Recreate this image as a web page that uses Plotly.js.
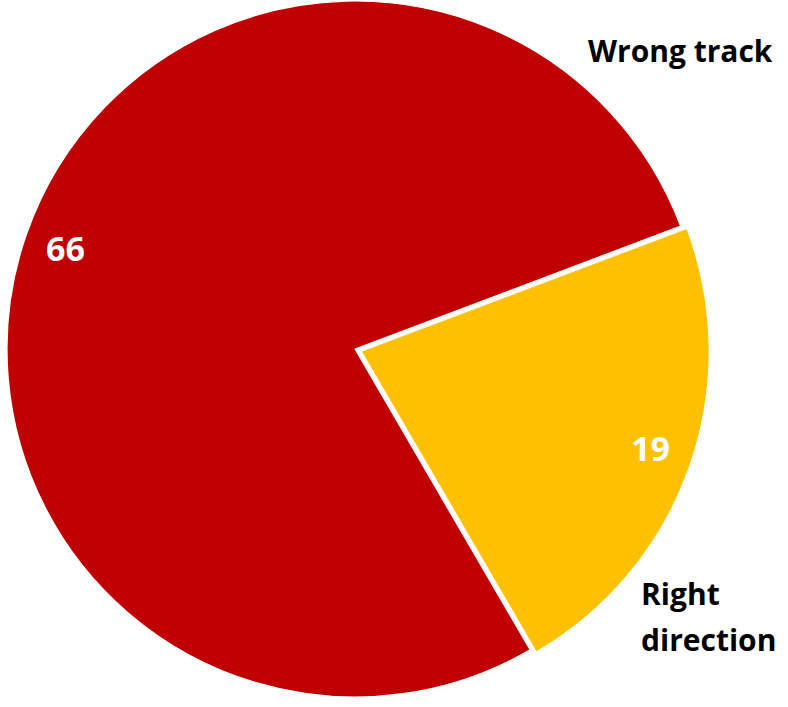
<!DOCTYPE html>
<html>
<head>
<meta charset="utf-8">
<script src="https://cdn.plot.ly/plotly-3.0.1.min.js"></script>
<style>
html,body{margin:0;padding:0;overflow:hidden;background:#fff;width:788px;height:707px;}
#chart{position:absolute;left:0;top:-6px;width:788px;height:720px;}
</style>
</head>
<body>
<div id="chart"></div>
<script>
// Data
const categories = ['Wrong track', 'Right direction'];
const values = [66, 19];
const colors = ['#C00000', '#FFC000'];
const pulls = [0, 0.019];

// Layout constants (pixels, in div coords; div is shifted up 6px)
const W = 788, H = 720, OFF = 6;
const cx = 355, cy = 355, R = 348;
const rotation = 149.8;
const labelAngleOffset = -0.7;
const labelFrac = 0.878;
const maxPull = Math.max.apply(null, pulls);
const half = R * (1 + maxPull);
const FONT = '"Open Sans", sans-serif';

const domain = {
  x: [(cx - half) / W, (cx + half) / W],
  y: [(H - cy - half) / H, (H - cy + half) / H]
};

// Value labels positioned along each slice's bisector (derived from data)
const total = values.reduce((a, b) => a + b, 0);
let cum = 0;
const annotations = [];
values.forEach((v, i) => {
  const mid = (rotation + labelAngleOffset + (cum + v / 2) / total * 360) * Math.PI / 180;
  cum += v;
  const sx = Math.sin(mid), sy = -Math.cos(mid);
  const px = cx + sx * (pulls[i] * R + labelFrac * R);
  const py = cy + sy * (pulls[i] * R + labelFrac * R) - 1.75;
  annotations.push({
    xref: 'paper', yref: 'paper', x: px / W, y: 1 - py / H,
    xanchor: 'center', yanchor: 'middle', showarrow: false,
    text: String(v),
    font: {family: FONT, size: 34, color: '#FFFFFF', weight: 'bold'}
  });
});

// Category labels (page y converted to div y)
function pageY(y) { return 1 - (y + OFF) / H; }
annotations.push({
  xref: 'paper', yref: 'paper', x: 680 / W, y: pageY(51),
  xanchor: 'center', yanchor: 'middle', showarrow: false,
  text: categories[0],
  font: {family: FONT, size: 30, color: '#000000', weight: 'bold'}
});
const words = categories[1].split(' ');
const lineY = [593, 639.5];
words.forEach((w, k) => {
  annotations.push({
    xref: 'paper', yref: 'paper', x: 639 / W, y: pageY(lineY[k]),
    xanchor: 'left', yanchor: 'middle', align: 'left', showarrow: false,
    text: w,
    font: {family: FONT, size: 30, color: '#000000', weight: 'bold'}
  });
});

const trace = {
  type: 'pie',
  labels: categories,
  values: values,
  marker: {colors: colors, line: {width: 1.2, color: '#FFFFFF'}},
  pull: pulls,
  sort: false,
  direction: 'clockwise',
  rotation: rotation,
  textinfo: 'none',
  hoverinfo: 'skip',
  domain: domain
};

const layout = {
  width: W, height: H,
  margin: {l: 0, r: 0, t: 0, b: 0, pad: 0},
  showlegend: false,
  paper_bgcolor: '#FFFFFF',
  annotations: annotations
};

Plotly.newPlot('chart', [trace], layout, {staticPlot: true, displayModeBar: false});
</script>
</body>
</html>
